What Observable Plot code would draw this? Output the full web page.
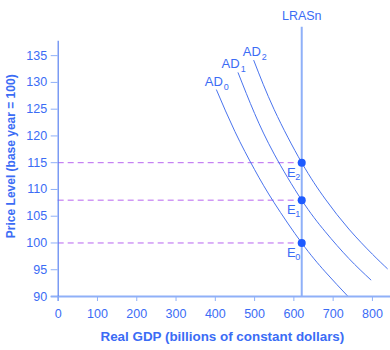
<!DOCTYPE html>
<html><head><meta charset="utf-8">
<script src="https://cdn.jsdelivr.net/npm/d3@7"></script>
<script src="https://cdn.jsdelivr.net/npm/@observablehq/plot@0.6"></script>
<style>
body{margin:0;background:#fff;}
#chart svg{font-family:"Liberation Sans",Arial,sans-serif;}
#chart g[aria-label="x-axis tick"] path{stroke:#8fb0f8;}
#chart g[aria-label="y-axis tick"] path{stroke:#8fb0f8;}
</style></head><body><div id="chart"></div>
<script>
const xTicks=[0,100,200,300,400,500,600,700,800];
const yTicks=[90,95,100,105,110,115,120,125,130,135];
const ad0X=[403,450,500,550,620,680,738];
const ad0Y=[128.6,120.8,113.7,107.5,100,94.6,90];
const ad1X=[458,500,550,620,680,740,796];
const ad1Y=[131.8,124.2,116.6,108,102.1,97.1,93.1];
const ad2X=[498,550,620,680,740,800,838];
const ad2Y=[134.1,124.9,115,108.2,102.6,97.9,95.2];
const curveNames=["AD","AD","AD"];
const curveSubs=["0","1","2"];
const labelX=[396,439,493];
const labelY=[129.4,132.7,135.0];
const lrasX=620, lrasTop=140.3, lrasName="LRASn";
const eqX=[620,620,620];
const eqY=[100,108,115];
const eqName="E";
const eqSubs=["0","1","2"];
const xLabel="Real GDP (billions of constant dollars)";
const yLabel="Price Level (base year = 100)";

const BLUE="#3b6cf5";
const curves=[[ad0X,ad0Y],[ad1X,ad1Y],[ad2X,ad2Y]].flatMap(([xs,ys],i)=>xs.map((x,j)=>({x,y:ys[j],curve:i})));
const labels=labelX.map((x,i)=>({x,y:labelY[i],name:curveNames[i],sub:curveSubs[i]}));
const eq=eqX.map((x,i)=>({x,y:eqY[i],name:eqName,sub:eqSubs[i]}));
const lras=[{x:lrasX,y1:90,y2:lrasTop,name:lrasName}];

const chart=Plot.plot({
  width:390,height:350,marginLeft:57.7,marginRight:0,marginTop:40.7,marginBottom:54,
  x:{domain:[0,846]},
  y:{domain:[90,137.7]},
  style:{fontFamily:"Liberation Sans, Arial, sans-serif",color:BLUE,background:"#fff",overflow:"visible"},
  marks:[
    Plot.ruleY(eq,{y:"y",x1:()=>0,x2:"x",stroke:"#b865f0",strokeWidth:1,strokeDasharray:"6,4"}),
    Plot.ruleX(lras,{x:"x",y1:"y1",y2:"y2",stroke:"#8fb0f8",strokeWidth:2}),
    Plot.line(curves,{x:"x",y:"y",z:"curve",curve:"natural",stroke:"#4a74ee",strokeWidth:1}),
    Plot.ruleY([90],{stroke:"#8fb0f8",strokeWidth:2,insetLeft:-7}),
    Plot.ruleX([0],{stroke:"#5a82f0",strokeWidth:1.2,insetBottom:-5}),
    Plot.axisX(xTicks,{tickSize:5,tickPadding:8,fontSize:12.5,label:null,color:BLUE}),
    Plot.axisY(yTicks,{tickSize:7,tickPadding:4,fontSize:12.5,label:null,color:BLUE}),
    Plot.dot(eq,{x:"x",y:"y",r:4,fill:"#1e5bff",stroke:null}),
    Plot.text(labels,{x:"x",y:"y",text:"name",lineAnchor:"bottom",fontSize:13,fill:BLUE}),
    Plot.text(labels,{x:"x",y:"y",text:"sub",dx:12.5,dy:4,lineAnchor:"bottom",fontSize:9,fill:BLUE}),
    Plot.text(eq,{x:"x",y:"y",text:"name",dx:-10.5,dy:14,lineAnchor:"bottom",fontSize:13,fill:BLUE}),
    Plot.text(eq,{x:"x",y:"y",text:"sub",dx:-4,dy:17,lineAnchor:"bottom",fontSize:9,fill:BLUE}),
    Plot.text(lras,{x:"x",y:"y2",text:"name",dy:-7,lineAnchor:"bottom",fontSize:12.5,fill:BLUE}),
    Plot.text([xLabel],{text:d=>d,frameAnchor:"bottom",textAnchor:"middle",dx:-2,dy:44,lineAnchor:"bottom",fontWeight:"bold",fontSize:13.4,fill:BLUE}),
    Plot.text([yLabel],{text:d=>d,frameAnchor:"left",textAnchor:"middle",rotate:-90,dx:-47,dy:-12.6,fontWeight:"bold",fontSize:12,fill:BLUE})
  ]
});
document.getElementById("chart").append(chart);
</script></body></html>
